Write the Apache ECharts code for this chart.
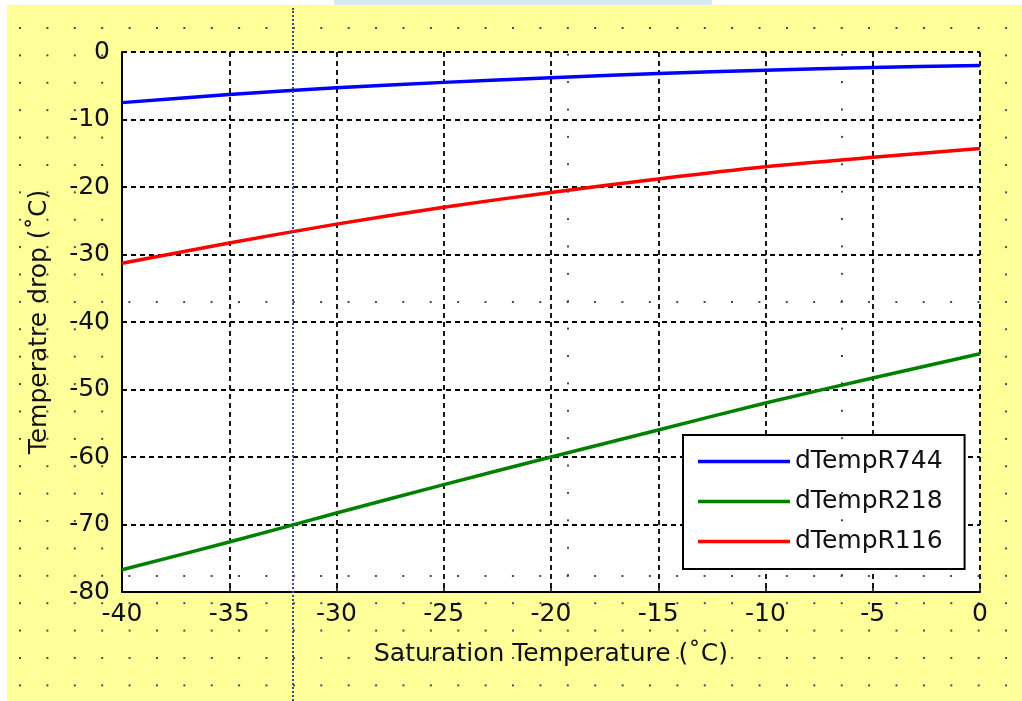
<!DOCTYPE html>
<html>
<head>
<meta charset="utf-8">
<script src="https://cdn.jsdelivr.net/npm/echarts@6/dist/echarts.min.js"></script>
<style>
  html, body { margin:0; padding:0; background:#fff; }
  #wrap { position:relative; width:1022px; height:701px; overflow:hidden; }
  #bg {
    position:absolute; left:7px; top:5px; right:0; bottom:0;
    background-color:#ffff99;
    background-image:radial-gradient(circle, #45455a 0.9px, rgba(0,0,0,0) 1.4px);
    background-size:27.4px 27.4px;
    background-position:-0.7px 9.3px;
  }
  #strip { position:absolute; left:334px; top:0; width:378px; height:5px; background:#d6ebf3; }
  #chart { position:absolute; left:0; top:0; width:1022px; height:701px; }
  .guide { position:absolute; pointer-events:none; }
  .vdot { border-left:2px dotted #3b4a8c; }
  .rowdots {
    height:4px;
    background-image:radial-gradient(circle, #45455a 0.9px, rgba(0,0,0,0) 1.4px);
    background-size:27.4px 4px; background-repeat:repeat-x;
  }
  .coldots {
    width:4px;
    background-image:radial-gradient(circle, #45455a 0.9px, rgba(0,0,0,0) 1.4px);
    background-size:4px 27.4px; background-repeat:repeat-y;
  }
</style>
</head>
<body>
<div id="wrap">
  <div id="bg"></div>
  <div id="strip"></div>
  <div id="chart"></div>
  <!-- layout guide dots that show through the plot -->
  <div class="guide vdot" style="left:292px; top:8px; height:693px;"></div>
  <div class="guide rowdots" style="left:122px; top:300px; width:858px; background-position:-6.3px 0;"></div>
  <div class="guide rowdots" style="left:122px; top:574px; width:858px; background-position:-6.3px 0;"></div>
  <div class="guide coldots" style="left:566px; top:52px; height:540px; background-position:0 -11px;"></div>
  <div class="guide coldots" style="left:840px; top:52px; height:540px; background-position:0 -11px;"></div>
</div>
<script>
// ---- data ----
const satTemp   = [-40, -35, -30, -25, -20, -15, -10, -5, 0];
const dTempR744 = [-7.5, -6.3, -5.3, -4.5, -3.8, -3.2, -2.7, -2.3, -2.0];
const dTempR218 = [-76.7, -72.6, -68.3, -64.1, -60.0, -56.0, -52.0, -48.3, -44.7];
const dTempR116 = [-31.3, -28.3, -25.5, -23.0, -20.8, -18.8, -17.0, -15.6, -14.3];

const seriesNames  = ['dTempR744', 'dTempR218', 'dTempR116'];
const seriesValues = [dTempR744, dTempR218, dTempR116];
const seriesColors = ['#0000ff', '#008000', '#ff0000'];

const FONT = 'DejaVu Sans';
const chart = echarts.init(document.getElementById('chart'), null, { renderer:'canvas' });

function pairs(ys){ return satTemp.map((x, i)=> [x, ys[i]]); }

chart.setOption({
  backgroundColor:'transparent',
  animation:false,
  textStyle:{ fontFamily:FONT },
  grid:{
    left:122, top:52, right:42, bottom:109,
    show:true, backgroundColor:'#fff', borderWidth:0,
    outerBoundsMode:'none'
  },
  xAxis:{
    type:'value', min:-40, max:0, interval:5,
    name:'Saturation Temperature (˚C)', nameLocation:'middle', nameGap:50,
    nameTextStyle:{ fontSize:25, color:'#111', fontFamily:FONT },
    axisLine:{ onZero:false, lineStyle:{ color:'#000', width:2 } },
    axisTick:{ inside:true, length:5, lineStyle:{ color:'#000', width:1.5 } },
    axisLabel:{ fontSize:25, color:'#111', margin:10, fontFamily:FONT },
    splitLine:{ show:true, lineStyle:{ color:'#000', type:[5,4], width:1.8 } }
  },
  yAxis:{
    type:'value', min:-80, max:0, interval:10,
    name:'Temperatre drop (˚C)', nameLocation:'middle', nameGap:70, nameRotate:90,
    nameTextStyle:{ fontSize:25, color:'#111', fontFamily:FONT },
    axisLine:{ show:true, onZero:false, lineStyle:{ color:'#000', width:2 } },
    axisTick:{ show:true, inside:true, length:5, lineStyle:{ color:'#000', width:1.5 } },
    axisLabel:{ fontSize:25, color:'#111', margin:12, fontFamily:FONT },
    splitLine:{ show:true, lineStyle:{ color:'#000', type:[5,4], width:1.8 } }
  },
  legend:{
    orient:'vertical', left:683, top:435,
    backgroundColor:'#fff', borderColor:'#000', borderWidth:2,
    padding:[14, 22, 15, 15], itemGap:15,
    icon:'rect', itemWidth:92, itemHeight:3.5,
    textStyle:{ fontSize:25, color:'#111', fontFamily:FONT },
    data:seriesNames
  },
  series: seriesNames.map((name, i)=>({
    name, type:'line', data:pairs(seriesValues[i]),
    symbol:'none', smooth:0.3,
    lineStyle:{ color:seriesColors[i], width:3.5 },
    itemStyle:{ color:seriesColors[i] }
  }))
});
</script>
</body>
</html>
